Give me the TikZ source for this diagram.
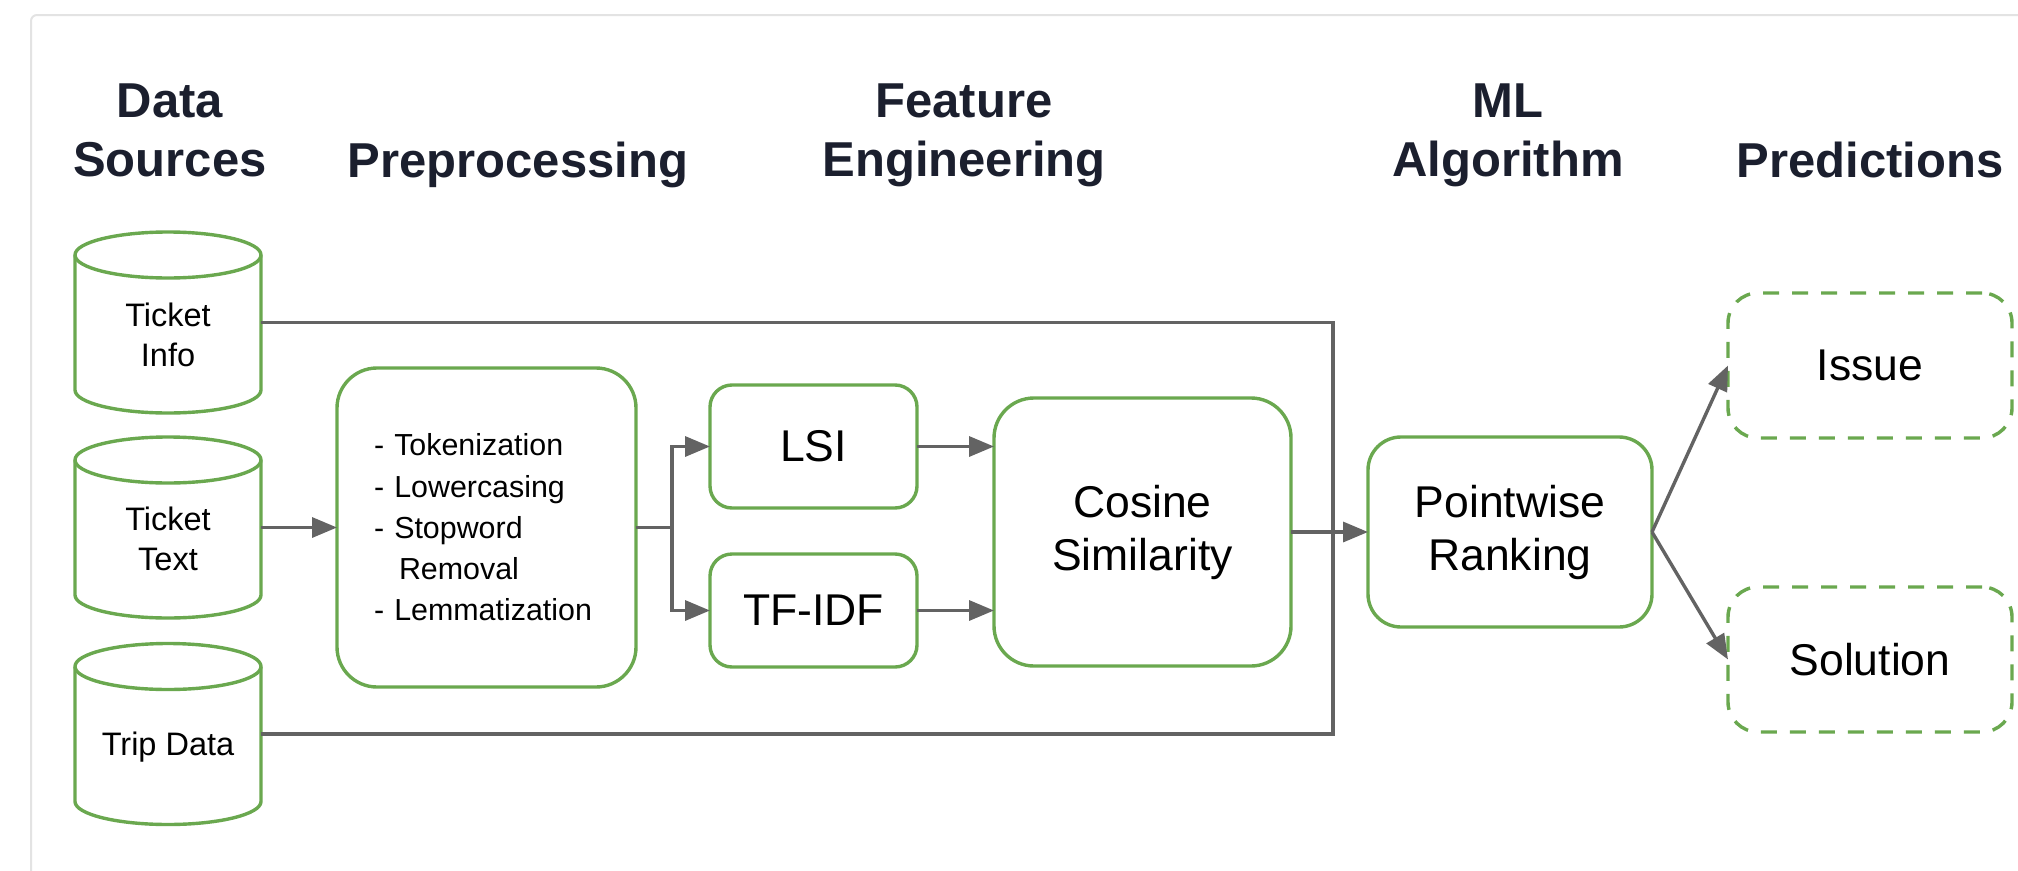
\documentclass[tikz,border=0pt]{standalone}
\usepackage{fontspec}
\setmainfont{Liberation Sans}
\usetikzlibrary{arrows.meta,calc}

\definecolor{boxgreen}{HTML}{6AA84F}
\definecolor{linkgray}{HTML}{636363}
\definecolor{headink}{HTML}{1B1F2E}
\definecolor{framegray}{HTML}{E3E3E3}

\tikzset{
  every node/.style={inner sep=0pt, outer sep=0pt},
  heading/.style={font=\bfseries\fontsize{49pt}{59pt}\selectfont, text=headink, align=center},
  greenbox/.style={draw=boxgreen, line width=3.4pt, align=center,
    font=\fontsize{44.5pt}{53pt}\selectfont},
  outbox/.style={greenbox, dash pattern=on 16pt off 13pt},
  cylbody/.style={minimum width=186pt, minimum height=181pt},
  cyltext/.style={font=\fontsize{32.5pt}{40pt}\selectfont, align=center},
  cylline/.style={draw=boxgreen, line width=3.4pt},
  link/.style={draw=linkgray, line width=3.4pt},
  arr/.style={link, -{Triangle[length=25pt,width=20pt]}},
}

% database cylinder drawn around the box of a named node
\newcommand{\dbcylinder}[1]{%
  \draw[cylline, fill=white]
    ($(#1.north west)+(0,-23pt)$) -- ($(#1.south west)+(0,23pt)$)
    arc[start angle=180, end angle=360, x radius=93pt, y radius=23pt]
    -- ($(#1.north east)+(0,-23pt)$)
    arc[start angle=0, end angle=180, x radius=93pt, y radius=23pt] -- cycle;
  \draw[cylline]
    ($(#1.north west)+(0,-23pt)$)
    arc[start angle=180, end angle=360, x radius=93pt, y radius=23pt];
}

\begin{document}
\begin{tikzpicture}[x=1pt, y=-1pt]
  \useasboundingbox (0,0) rectangle (2018,870);

  % panel frame
  \draw[framegray, line width=2pt, rounded corners=6pt] (31,875) -- (31,15) -- (2025,15);

  % column headings
  \node[heading] (hsrc) at (170,130) {Data\\Sources};
  \node[heading, anchor=base] (hpre) at (518,177) {Preprocessing};
  \node[heading] (hfeat) at (964,135) {Feature\\Engineering};
  \node[heading] (hml) at (1508,135) {ML\\Algorithm};
  \node[heading, anchor=base] (hpred) at (1870,177) {Predictions};

  % data sources
  \node[cylbody] (ti) at (168,322.5) {};
  \node[cylbody] (tt) at (168,527.5) {};
  \node[cylbody] (td) at (168,734) {};
  \dbcylinder{ti}
  \dbcylinder{tt}
  \dbcylinder{td}
  \node[cyltext] (tiLabel) at (168,335) {Ticket\\Info};
  \node[cyltext] (ttLabel) at (168,539) {Ticket\\Text};
  \node[cyltext] (tdLabel) at (168,747) {Trip Data};

  % preprocessing
  \node[draw=boxgreen, line width=3.4pt, rounded corners=40pt,
        minimum height=319pt, text width=225pt, inner xsep=37pt, align=left,
        font=\fontsize{30.4pt}{41.3pt}\selectfont] (pre) at (486.5,527.5)
    {- Tokenization\\- Lowercasing\\- Stopword\\\hspace*{25pt}Removal\\- Lemmatization};

  % feature engineering
  \node[greenbox, rounded corners=22pt, minimum width=207pt, minimum height=123pt] (lsi) at (813.5,446.5) {LSI};
  \node[greenbox, rounded corners=22pt, minimum width=207pt, minimum height=113pt] (tfidf) at (813.5,610.5) {TF-IDF};
  \node[greenbox, rounded corners=40pt, minimum width=297pt, minimum height=268pt] (cos) at (1142.5,532) {Cosine\\Similarity};

  % ranking and outputs
  \node[greenbox, rounded corners=33pt, minimum width=284pt, minimum height=190pt] (rank) at (1510,532) {Pointwise\\Ranking};
  \node[outbox, rounded corners=30pt, minimum width=284pt, minimum height=145pt] (issue) at (1870,365.5) {Issue};
  \node[outbox, rounded corners=30pt, minimum width=284pt, minimum height=145pt] (sol) at (1870,659.5) {Solution};

  % connectors
  \coordinate (bus) at (1333,0);
  \coordinate (fork) at (672,527.5);
  \draw[link] (ti.east) -- (ti.east -| bus) -- (td.east -| bus) -- (td.east);
  \draw[arr] (tt.east) -- (pre.west);
  \draw[link] (pre.east) -- (fork);
  \draw[arr] (fork) |- (lsi.west);
  \draw[arr] (fork) |- (tfidf.west);
  \draw[arr] (lsi.east) -- (lsi.east -| cos.west);
  \draw[arr] (tfidf.east) -- (tfidf.east -| cos.west);
  \draw[arr] (cos.east) -- (rank.west);
  \draw[arr] (rank.east) -- (issue.west);
  \draw[arr] (rank.east) -- (sol.west);
\end{tikzpicture}
\end{document}
